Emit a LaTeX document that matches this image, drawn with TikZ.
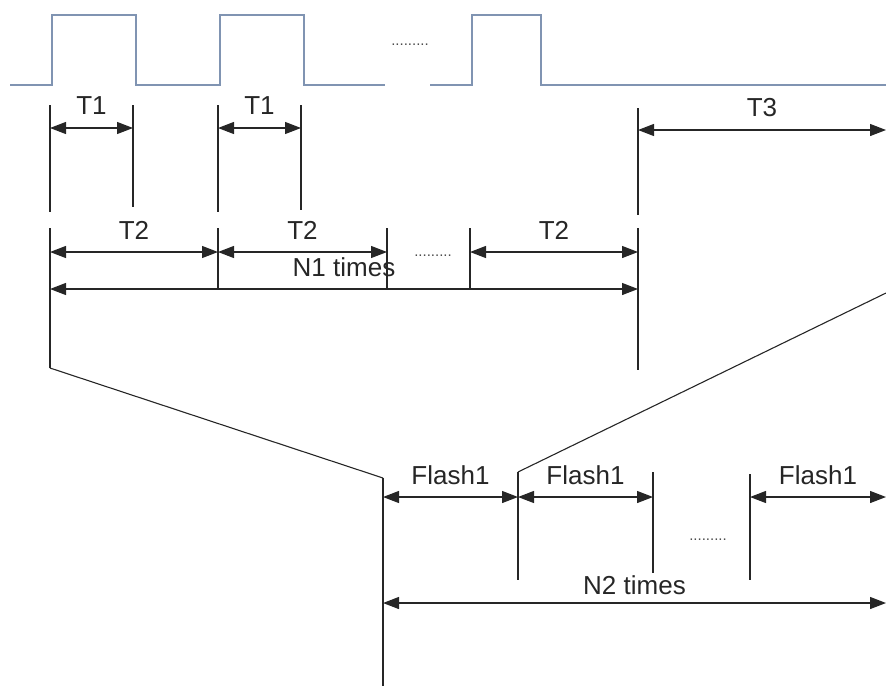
\documentclass[tikz,border=0pt]{standalone}
\usepackage{fontspec}
\setmainfont{Liberation Sans}
\usetikzlibrary{arrows.meta,positioning}
\definecolor{wavecol}{RGB}{128,148,178}

\begin{document}
\begin{tikzpicture}[
    x=0.5pt, y=-0.5pt,
    wave/.style={draw=wavecol, line width=0.7pt},
    tick/.style={draw=black!85, line width=0.8pt},
    slant/.style={draw=black!85, line width=0.55pt},
    dim/.style={{Triangle[length=8pt,width=6pt]}-{Triangle[length=8pt,width=6pt]},
      line width=0.6pt, draw=black!85},
    lbl/.style={font=\fontsize{13}{15}\selectfont, text=black!85, yshift=11pt},
    more/.style={font=\fontsize{7.5}{8}\selectfont, text=black!70}
  ]
  \useasboundingbox (0,0) rectangle (886,686);

  % pulse train
  \draw[wave] (10,85) -- (52,85) -- (52,15) -- (136,15) -- (136,85) -- (220,85)
    -- (220,15) -- (304,15) -- (304,85) -- (385,85);
  \draw[wave] (430,85) -- (472,85) -- (472,15) -- (541,15) -- (541,85) -- (886,85);
  \node[more] (dotsa) at (410,45) {.........};

  % rows of the dimension arrows
  \coordinate (r1) at (0,128);
  \coordinate (r2) at (0,252);
  \coordinate (rn1) at (0,289);
  \coordinate (r3) at (0,130);
  \coordinate (rf) at (0,497);
  \coordinate (rn2) at (0,603);

  % ticks of T1
  \coordinate (a1t) at (50,105);  \coordinate (a1b) at (50,212);
  \coordinate (a2t) at (133,105); \coordinate (a2b) at (133,207);
  \coordinate (b1t) at (218,105); \coordinate (b1b) at (218,212);
  \coordinate (b2t) at (301,105); \coordinate (b2b) at (301,210);
  \draw[tick] (a1t) -- (a1b);
  \draw[tick] (a2t) -- (a2b);
  \draw[tick] (b1t) -- (b1b);
  \draw[tick] (b2t) -- (b2b);
  \draw[dim] (a1t |- r1) -- node[lbl] {T1} (a2t |- r1);
  \draw[dim] (b1t |- r1) -- node[lbl] {T1} (b2t |- r1);

  % ticks of T2
  \coordinate (c0t) at (50,228);  \coordinate (c0b) at (50,368);
  \coordinate (c1t) at (218,228); \coordinate (c1b) at (218,290);
  \coordinate (c2t) at (387,228); \coordinate (c2b) at (387,290);
  \coordinate (c3t) at (470,228); \coordinate (c3b) at (470,290);
  \coordinate (d0t) at (638,108); \coordinate (d0m) at (638,215);
  \coordinate (d0n) at (638,228); \coordinate (d0b) at (638,370);
  \draw[tick] (c0t) -- (c0b);
  \draw[tick] (c1t) -- (c1b);
  \draw[tick] (c2t) -- (c2b);
  \draw[tick] (c3t) -- (c3b);
  \draw[tick] (d0t) -- (d0m);
  \draw[tick] (d0n) -- (d0b);
  \draw[dim] (c0t |- r2) -- node[lbl] {T2} (c1t |- r2);
  \draw[dim] (c1t |- r2) -- node[lbl] {T2} (c2t |- r2);
  \draw[dim] (c3t |- r2) -- node[lbl] {T2} (d0n |- r2);
  \node[more] (dotsb) at (433,256) {.........};
  \draw[dim] (c0t |- rn1) -- node[lbl] {N1 times} (d0n |- rn1);

  % T3
  \coordinate (t3e) at (886,130);
  \draw[dim] (d0t |- r3) -- node[lbl] {T3} (t3e);

  % zoom lines
  \coordinate (f0t) at (383,478); \coordinate (f0b) at (383,686);
  \coordinate (f1t) at (518,472); \coordinate (f1b) at (518,580);
  \coordinate (f2t) at (653,472); \coordinate (f2b) at (653,573);
  \coordinate (f3t) at (750,474); \coordinate (f3b) at (750,580);
  \coordinate (zr) at (886,293);
  \draw[slant] (c0b) -- (f0t);
  \draw[slant] (zr) -- (f1t);

  % flashes
  \coordinate (fe) at (886,497);
  \coordinate (ne) at (886,603);
  \draw[tick] (f0t) -- (f0b);
  \draw[tick] (f1t) -- (f1b);
  \draw[tick] (f2t) -- (f2b);
  \draw[tick] (f3t) -- (f3b);
  \draw[dim] (f0t |- rf) -- node[lbl] {Flash1} (f1t |- rf);
  \draw[dim] (f1t |- rf) -- node[lbl] {Flash1} (f2t |- rf);
  \draw[dim] (f3t |- rf) -- node[lbl] {Flash1} (fe);
  \node[more] (dotsc) at (708,540) {.........};
  \draw[dim] (f0t |- rn2) -- node[lbl, yshift=-2pt] {N2 times} (ne);
\end{tikzpicture}
\end{document}
